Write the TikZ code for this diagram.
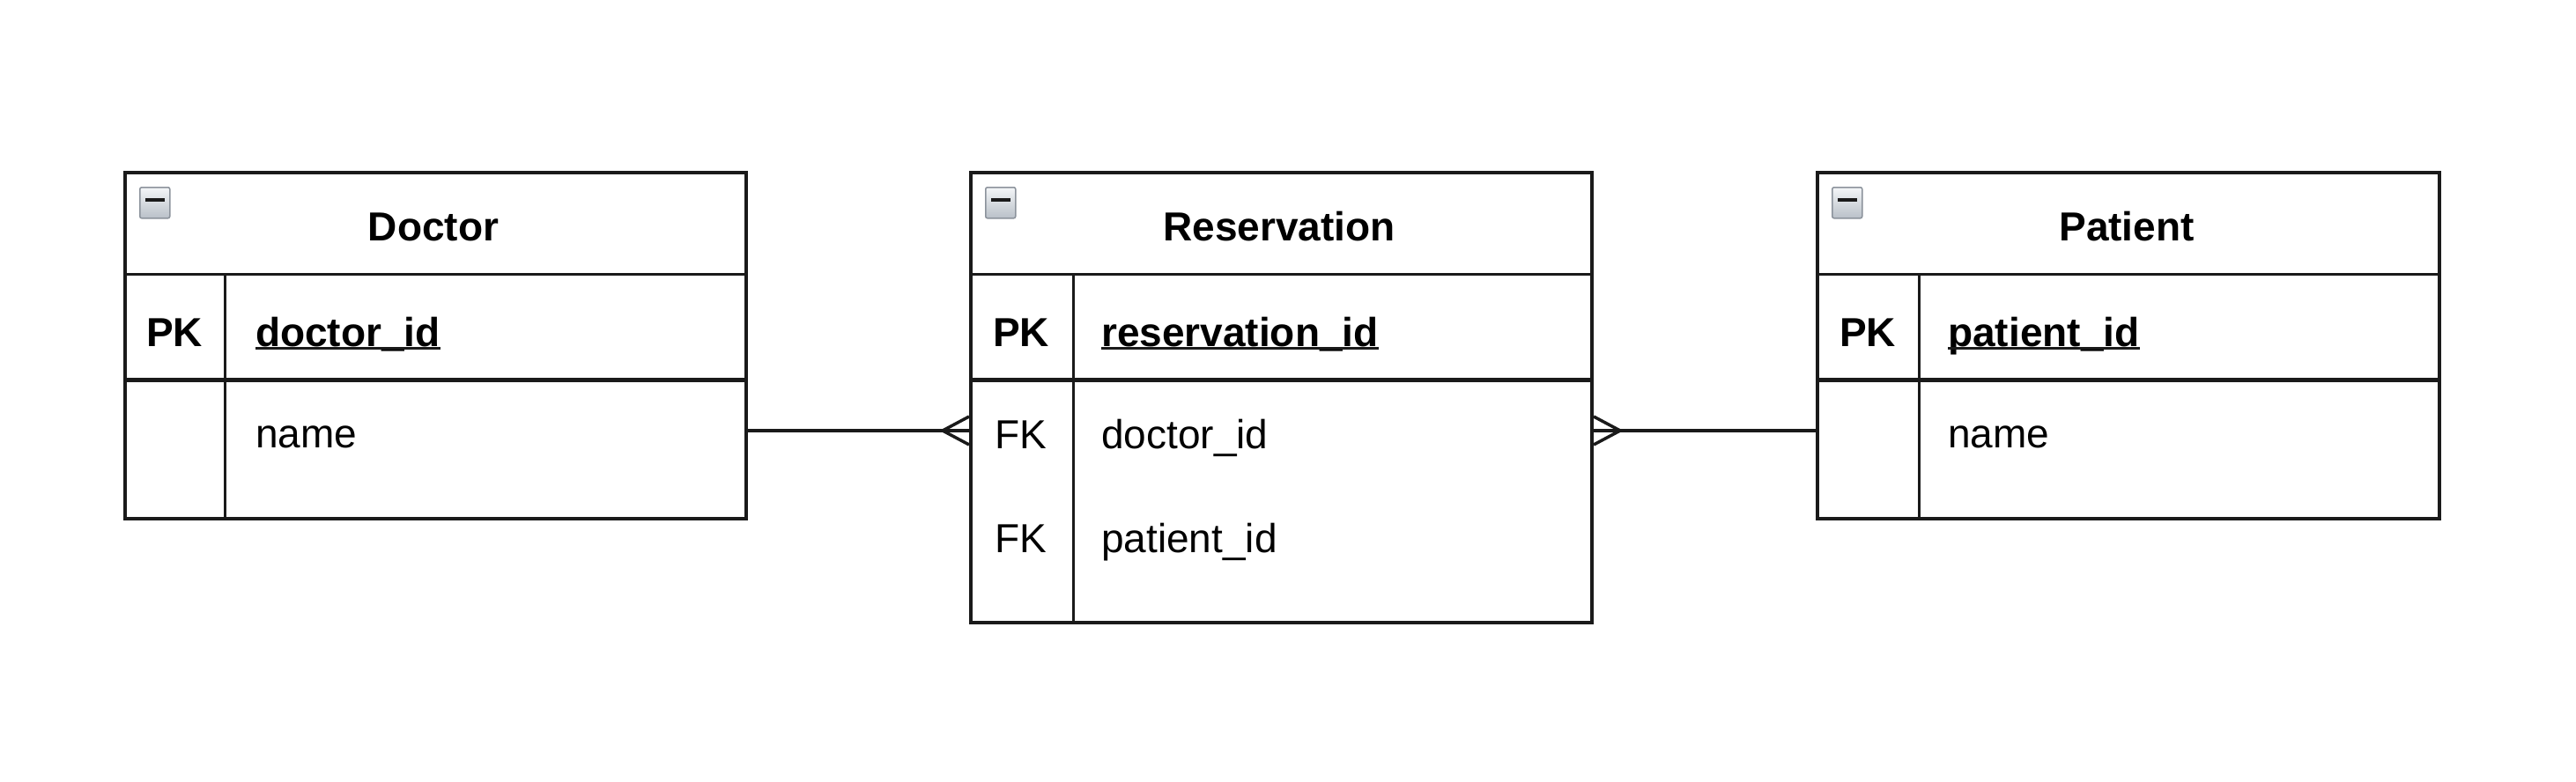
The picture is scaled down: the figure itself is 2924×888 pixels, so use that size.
\documentclass[tikz,border=0pt]{standalone}
\usepackage{fontspec}
\setmainfont{Liberation Sans}
\definecolor{ln}{HTML}{1A1A1A}
\definecolor{icontop}{HTML}{F4F6F8}
\definecolor{iconbot}{HTML}{B9C0C8}
\definecolor{iconbd}{HTML}{8C939C}
\tikzset{
  tbl/.style={draw=ln, line width=4pt, fill=white, rectangle, inner sep=0pt, anchor=north west},
  inner/.style={draw=ln, line width=3pt},
  pkline/.style={draw=ln, line width=5pt},
  ttl/.style={font=\fontsize{46}{55}\selectfont\bfseries, inner sep=0pt, anchor=base},
  key/.style={font=\fontsize{46}{55}\selectfont, inner sep=0pt, anchor=base},
  bkey/.style={font=\fontsize{46}{55}\selectfont\bfseries, inner sep=0pt, anchor=base},
  fld/.style={font=\fontsize{46}{55}\selectfont, inner sep=0pt, anchor=base west},
  bfld/.style={font=\fontsize{46}{55}\selectfont\bfseries, inner sep=0pt, anchor=base west},
  uline/.style={draw=ln, line width=2.5pt},
  conn/.style={draw=ln, line width=3.5pt},
  icon/.style={rectangle, draw=iconbd, line width=1.5pt, top color=icontop, bottom color=iconbot, minimum width=34pt, minimum height=35pt, inner sep=0pt, anchor=north west, rounded corners=2pt},
  minus/.style={draw=ln, line width=4pt}
}
\begin{document}
\begin{tikzpicture}[x=1pt,y=-1pt]
\useasboundingbox (0,0) rectangle (2924,888);
\fill[white] (0,0) rectangle (2924,888);

% ---------- Doctor ----------
\node[tbl, minimum width=705pt, minimum height=393pt] (doc) at (140,194) {};
\draw[inner] (140,311) -- (845,311);
\draw[pkline] (140,431) -- (845,431);
\draw[inner] (255,311) -- (255,587);
\node[icon] (docicon) at (158,212) {};
\draw[minus] ([xshift=7pt,yshift=-15pt]docicon.north west) -- ([xshift=-7pt,yshift=-15pt]docicon.north east);
\node[ttl] (doct) at (492,273) {Doctor};
\node[bkey] (docpk) at (198,393) {PK};
\node[bfld] (docid) at (290,393) {doctor\_id};
\draw[uline] ([yshift=-2.5pt]docid.base west) -- ([yshift=-2.5pt]docid.base east);
\node[fld] (docname) at (290,508) {name};

% ---------- Reservation ----------
\node[tbl, minimum width=705pt, minimum height=511pt] (res) at (1100,194) {};
\draw[inner] (1100,311) -- (1805,311);
\draw[pkline] (1100,431) -- (1805,431);
\draw[inner] (1218,311) -- (1218,705);
\node[icon] (resicon) at (1118,212) {};
\draw[minus] ([xshift=7pt,yshift=-15pt]resicon.north west) -- ([xshift=-7pt,yshift=-15pt]resicon.north east);
\node[ttl] (rest) at (1452,273) {Reservation};
\node[bkey] (respk) at (1159,393) {PK};
\node[bfld] (resid) at (1250,393) {reservation\_id};
\draw[uline] ([yshift=-2.5pt]resid.base west) -- ([yshift=-2.5pt]resid.base east);
\node[key] (resfk1) at (1159,509) {FK};
\node[fld] (resdoc) at (1250,509) {doctor\_id};
\node[key] (resfk2) at (1159,627) {FK};
\node[fld] (respat) at (1250,627) {patient\_id};

% ---------- Patient ----------
\node[tbl, minimum width=706pt, minimum height=393pt] (pat) at (2061,194) {};
\draw[inner] (2061,311) -- (2767,311);
\draw[pkline] (2061,431) -- (2767,431);
\draw[inner] (2178,311) -- (2178,587);
\node[icon] (paticon) at (2079,212) {};
\draw[minus] ([xshift=7pt,yshift=-15pt]paticon.north west) -- ([xshift=-7pt,yshift=-15pt]paticon.north east);
\node[ttl] (patt) at (2414,273) {Patient};
\node[bkey] (patpk) at (2120,393) {PK};
\node[bfld] (patid) at (2211,393) {patient\_id};
\draw[uline] ([yshift=-2.5pt]patid.base west) -- ([yshift=-2.5pt]patid.base east);
\node[fld] (patname) at (2211,508) {name};

% ---------- connectors ----------
\coordinate (lvl) at (0,489);
\draw[conn] (doc.east |- lvl) -- (res.west |- lvl);
\draw[conn, line join=miter] (res.west |- lvl) ++(0,-16) -- ++(-30,16) -- ++(30,16);
\draw[conn] (res.east |- lvl) -- (pat.west |- lvl);
\draw[conn, line join=miter] (res.east |- lvl) ++(0,-16) -- ++(30,16) -- ++(-30,16);
\end{tikzpicture}
\end{document}
